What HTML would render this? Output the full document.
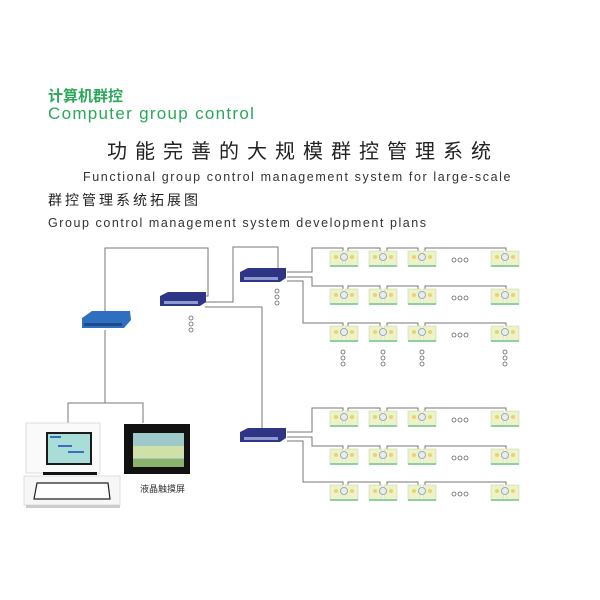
<!DOCTYPE html>
<html><head><meta charset="utf-8"><style>
body{margin:0;background:#fff;}
svg{display:block;}
text{font-family:"Liberation Sans","Noto Sans CJK SC",sans-serif;}
</style></head><body>
<svg width="600" height="600" viewBox="0 0 600 600" xmlns="http://www.w3.org/2000/svg">
<defs>
<g id="dev">
 <rect x="-14" y="-8" width="13" height="15" fill="#eef2c8" stroke="#cfd8b0" stroke-width="0.6"/>
 <rect x="1" y="-8" width="13" height="15" fill="#eef2c8" stroke="#cfd8b0" stroke-width="0.6"/>
 <rect x="-14" y="6" width="28" height="2" fill="#8fcfa0"/>
 <circle cx="0" cy="-2" r="3.5" fill="#e8ecef" stroke="#8a9aa8" stroke-width="0.8"/>
 <circle cx="-8" cy="-2" r="2" fill="#e9d36a"/>
 <circle cx="8" cy="-2" r="2" fill="#e9d36a"/>
</g>
<g id="sw">
 <polygon points="0,4 8,0 46,0 46,10 40,14 0,14" fill="#2e3585"/>
 <rect x="4" y="9" width="34" height="3" fill="#8f9ad0"/>
</g>
<g id="dots" fill="none" stroke="#666" stroke-width="0.8">
 <circle cx="0" cy="0" r="2"/><circle cx="0" cy="6" r="2"/><circle cx="0" cy="12" r="2"/>
</g>
<g id="hdots" fill="none" stroke="#666" stroke-width="0.8">
 <circle cx="-6" cy="0" r="2"/><circle cx="0" cy="0" r="2"/><circle cx="6" cy="0" r="2"/>
</g>
<g id="row" stroke="#777" stroke-width="1" fill="none">
 <polyline points="348,-8 348,-11 380,-11 380,-8"/>
 <polyline points="387,-8 387,-11 418,-11 418,-8"/>
 <polyline points="425,-8 425,-11 506,-11 506,-8"/>
 <use href="#dev" x="344" y="0" stroke="none"/>
 <use href="#dev" x="383" y="0" stroke="none"/>
 <use href="#dev" x="422" y="0" stroke="none"/>
 <use href="#dev" x="505" y="0" stroke="none"/>
 <use href="#hdots" x="460" y="1"/>
</g>
</defs>

<text x="48" y="101" font-size="15" fill="#2aa85a" font-weight="bold">计算机群控</text>
<text x="48" y="119" font-size="17" fill="#2aa85a" letter-spacing="1.3">Computer group control</text>
<text x="107" y="158" font-size="20" fill="#222" letter-spacing="8">功能完善的大规模群控管理系统</text>
<text x="83" y="181" font-size="12.5" fill="#333" letter-spacing="1.6">Functional group control management system for large-scale</text>
<text x="48" y="205" font-size="14" fill="#222" letter-spacing="3">群控管理系统拓展图</text>
<text x="48" y="227" font-size="12.5" fill="#333" letter-spacing="1.55">Group control management system development plans</text>

<g stroke="#777" stroke-width="1" fill="none">
 <polyline points="105,314 105,248 208,248 208,296 206,296"/>
 <polyline points="205,302 233,302 233,247 278,247 278,268"/>
 <polyline points="205,307 262,307 262,430"/>
 <polyline points="105,330 105,403"/>
 <polyline points="68,423 68,403 143,403 143,423"/>
 <polyline points="287,272 312,272 312,248 343,248 343,251"/>
 <polyline points="287,277 312,277 312,286 343,286 343,289"/>
 <polyline points="287,281 303,281 303,323 343,323 343,326"/>
 <polyline points="287,432 312,432 312,408 343,408 343,411"/>
 <polyline points="287,437 312,437 312,446 343,446 343,449"/>
 <polyline points="287,441 303,441 303,482 343,482 343,485"/>
</g>

<use href="#row" x="0" y="259"/>
<use href="#row" x="0" y="297"/>
<use href="#row" x="0" y="334"/>
<use href="#row" x="0" y="419"/>
<use href="#row" x="0" y="457"/>
<use href="#row" x="0" y="493"/>

<use href="#dots" x="343" y="352"/>
<use href="#dots" x="383" y="352"/>
<use href="#dots" x="422" y="352"/>
<use href="#dots" x="505" y="352"/>
<use href="#dots" x="277" y="291"/>
<use href="#dots" x="191" y="318"/>

<use href="#sw" x="240" y="268"/>
<use href="#sw" x="160" y="292"/>
<use href="#sw" x="240" y="428"/>
<polygon points="82,318 92,311 130,311 131,320 124,328 82,328" fill="#2f6fc0"/>
<rect x="84" y="323" width="38" height="3" fill="#1d4a8a"/>

<rect x="26" y="423" width="74" height="50" fill="#fafafa" stroke="#ddd"/>
<rect x="46" y="432" width="46" height="33" fill="#1a1a1a"/>
<rect x="48" y="434" width="42" height="29" fill="#a8ddd8"/>
<rect x="50" y="436" width="11" height="2" fill="#3a6cc0"/>
<rect x="58" y="445" width="14" height="2" fill="#3a6cc0"/>
<rect x="68" y="451" width="16" height="2" fill="#3a6cc0"/>
<rect x="43" y="472" width="54" height="3" fill="#111"/>
<rect x="24" y="476" width="96" height="29" fill="#f6f6f6" stroke="#ddd"/>
<polygon points="37,483 108,483 110,499 34,499" fill="#fff" stroke="#222" stroke-width="1.2"/>
<rect x="26" y="505" width="94" height="3" fill="#ccc"/>
<rect x="124" y="424" width="66" height="50" fill="#111"/>
<rect x="133" y="433" width="51" height="34" fill="#9fc8c8"/>
<rect x="133" y="446" width="51" height="12" fill="#cfe0a8"/>
<rect x="133" y="459" width="51" height="8" fill="#8db36a"/>
<text x="140" y="492" font-size="9" fill="#333">液晶触摸屏</text>
</svg>
</body></html>
